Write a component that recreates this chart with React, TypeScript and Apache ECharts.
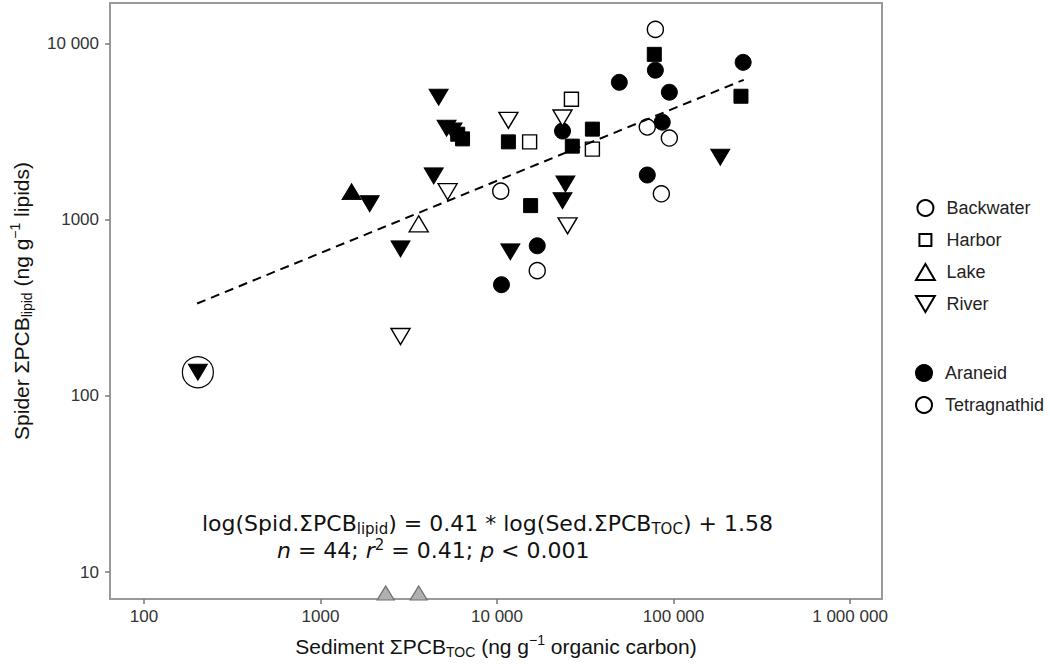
import React, { useEffect, useRef } from 'react';
import * as echarts from 'echarts';

// tick values
const xTicks = [100, 1000, 10000, 100000, 1000000];
const yTicks = [10, 100, 1000, 10000];

// points: [sediment ΣPCB_TOC, spider ΣPCB_lipid]
const backwaterAraneid = [[78900, 7040], [49300, 6010], [248000, 7800], [94700, 5280], [86300, 3570], [71000, 1790], [23500, 3180], [16900, 710], [10600, 427]];
const backwaterTetragnathid = [[78900, 12000], [71000, 3350], [94700, 2900], [85300, 1400], [10500, 1450], [16900, 513]];
const harborAraneid = [[77800, 8660], [241000, 5010], [34700, 3260], [26700, 2610], [11600, 2760], [5990, 3050], [6380, 2870], [15500, 1200]];
const harborTetragnathid = [[26400, 4820], [15300, 2760], [34700, 2510]];
const lakeAraneid = [[1500, 1440]];
const lakeTetragnathid = [[3600, 946]];
const riverAraneid = [[4670, 4940], [5180, 3300], [5600, 3180], [1900, 1230], [4380, 1770], [2840, 682], [11900, 656], [24400, 1590], [23500, 1280], [184000, 2260], [202, 136]];
const riverTetragnathid = [[11600, 3660], [23500, 3770], [5250, 1440], [25100, 921], [2840, 217]];
const lakeBelowAxis = [[2340, 7.6], [3600, 7.6]];
const outlier = [[202, 136]];
const fitLine = [[200, 334], [250000, 6210]];

const habitatLegend = ['Backwater', 'Harbor', 'Lake', 'River'];
const speciesLegend = ['Araneid', 'Tetragnathid'];

const SANS = '"Liberation Sans", Arial, sans-serif';
const EQF = '"DejaVu Sans", Verdana, sans-serif';

const UP = 'path://M10,0L20,17L0,17Z';
const DOWN = 'path://M0,0L20,0L10,17Z';
const SQUARE = 'path://M0,0L10,0L10,10L0,10Z';
const SQUARE_LEG = 'path://M0,0M2,2L14,2L14,14L2,14ZM16,16';

const filled = { color: '#000', borderColor: '#000', borderWidth: 1, opacity: 1 };
const open = { color: '#fff', borderColor: '#000', borderWidth: 1.4, opacity: 1 };

const fmt = (v: number) => (v >= 10000 ? String(v).replace(/\B(?=(\d{3})+(?!\d))/g, ' ') : String(v));

export default function App() {
  const ref = useRef<HTMLDivElement>(null);
  useEffect(() => {
    if (!ref.current) return;
    const chart = echarts.init(ref.current, undefined, { renderer: 'svg' });
    const sc = (name: string, data: number[][], symbol: string, size: any, style: any, z = 3) => ({
      type: 'scatter', name, data, symbol, symbolSize: size, itemStyle: style, z,
      emphasis: { disabled: true }, silent: true,
    });
    const rich = {
      a: { fontSize: 21, fontFamily: SANS, color: '#111', lineHeight: 26, verticalAlign: 'middle' },
      s: { fontSize: 14, fontFamily: SANS, color: '#111', lineHeight: 14, verticalAlign: 'bottom' },
      p: { fontSize: 14, fontFamily: SANS, color: '#111', lineHeight: 14, verticalAlign: 'top' },
    };
    const eqRich = {
      a: { fontSize: 22, fontFamily: EQF, fill: '#111', lineHeight: 26, verticalAlign: 'middle' },
      i: { fontSize: 22, fontFamily: EQF, fill: '#111', lineHeight: 26, verticalAlign: 'middle', fontStyle: 'italic' },
      s: { fontSize: 15, fontFamily: EQF, fill: '#111', lineHeight: 15, verticalAlign: 'bottom' },
      p: { fontSize: 15, fontFamily: EQF, fill: '#111', lineHeight: 15, verticalAlign: 'top' },
    };
    const legendCommon = {
      orient: 'vertical', itemWidth: 20, itemHeight: 16, itemGap: 14, selectedMode: false,
      textStyle: { fontSize: 18, fontFamily: SANS, color: '#222', lineHeight: 16, padding: [0, 0, 0, 6] },
    };
    chart.setOption({
      animation: false,
      grid: { left: 109, right: 168, top: 3, bottom: 63, show: true, borderColor: '#9a9a9a', borderWidth: 2 },
      xAxis: {
        type: 'log', logBase: 10, min: 64.2, max: 1517000,
        axisLine: { show: false },
        axisTick: { show: true, length: 5, customValues: xTicks, lineStyle: { color: '#777', width: 1.5 } },
        axisLabel: { customValues: xTicks, formatter: fmt, fontSize: 17, fontFamily: SANS, color: '#333', margin: 9 },
        splitLine: { show: false },
        name: '{a|Sediment ΣPCB}{s|TOC}{a| (ng g}{p|−1}{a| organic carbon)}',
        nameLocation: 'middle', nameGap: 34,
        nameTextStyle: { rich },
      },
      yAxis: {
        type: 'log', logBase: 10, min: 7.03, max: 16940,
        axisLine: { show: false },
        axisTick: { show: true, length: 5, customValues: yTicks, lineStyle: { color: '#777', width: 1.5 } },
        axisLabel: { customValues: yTicks, formatter: fmt, fontSize: 17, fontFamily: SANS, color: '#333', margin: 11 },
        splitLine: { show: false },
        name: '{a|Spider ΣPCB}{s|lipid}{a| (ng g}{p|−1}{a| lipids)}',
        nameLocation: 'middle', nameGap: 76, nameRotate: 90,
        nameTextStyle: { rich },
      },
      legend: [
        { ...legendCommon, left: 910, top: 194, data: habitatLegend },
        { ...legendCommon, left: 910, top: 359, data: speciesLegend },
      ],
      series: [
        sc('Backwater', [], 'circle', 15, open),
        sc('Harbor', [], SQUARE_LEG, 16, open),
        sc('Lake', [], UP, [20, 17], open),
        sc('River', [], DOWN, [20, 17], open),
        sc('Araneid', [], 'circle', 15, filled),
        sc('Tetragnathid', [], 'circle', 15, open),
        sc('Harbor Araneid', harborAraneid, SQUARE, 14, filled),
        sc('Backwater Araneid', backwaterAraneid, 'circle', 16, filled),
        sc('Backwater Tetragnathid', backwaterTetragnathid, 'circle', 16, open),
        sc('Harbor Tetragnathid', harborTetragnathid, SQUARE, 14, open),
        sc('Lake Tetragnathid', lakeTetragnathid, UP, [19, 16], open),
        sc('Lake Araneid', lakeAraneid, UP, [19, 16], filled),
        sc('River Tetragnathid', riverTetragnathid, DOWN, [19, 16], open, 4),
        sc('River Araneid', riverAraneid, DOWN, [19, 16], filled, 4),
        sc('Lake (below axis)', lakeBelowAxis, UP, [17, 14], { color: '#b0b0b0', borderColor: '#707070', borderWidth: 1.2, opacity: 1 }),
        sc('Outlier', outlier, 'circle', 31, { color: 'rgba(0,0,0,0)', borderColor: '#000', borderWidth: 1.2, opacity: 1 }, 5),
        {
          type: 'line', name: 'fit', data: fitLine, showSymbol: false, symbol: 'none', z: 6, silent: true,
          lineStyle: { color: '#000', width: 2, type: [9, 6] },
        },
      ],
      graphic: [
        {
          type: 'text', left: 202, top: 512, silent: true,
          style: { text: '{a|log(Spid.ΣPCB}{s|lipid}{a|) = 0.41 * log(Sed.ΣPCB}{s|TOC}{a|) + 1.58}', rich: eqRich },
        },
        {
          type: 'text', left: 277, top: 537, silent: true,
          style: { text: '{i|n}{a| = 44; }{i|r}{p|2}{a| = 0.41; }{i|p}{a| < 0.001}', rich: eqRich },
        },
      ],
    });
    return () => chart.dispose();
  }, []);
  return <div ref={ref} style={{ position: 'fixed', left: 0, top: 0, width: 1050, height: 664, background: '#fff' }} />;
}
